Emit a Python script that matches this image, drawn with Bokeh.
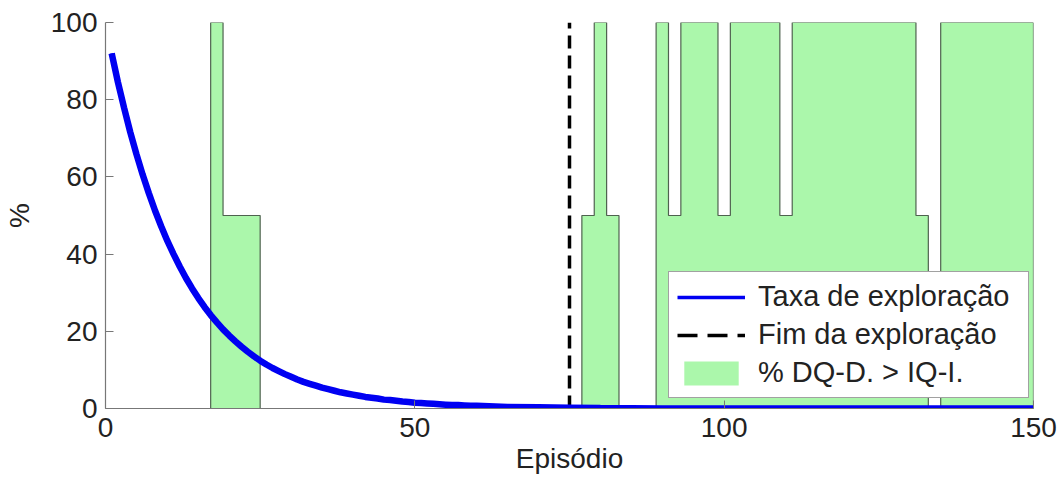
from bokeh.plotting import figure
from bokeh.models import Range1d, FixedTicker, Legend, LegendItem, ColumnDataSource
from bokeh.embed import file_html
from bokeh.resources import INLINE

# Exploration rate (%) per episode
episodes = [1, 2, 3, 4, 5, 6, 7, 8, 9, 10, 11, 12, 13, 14, 15, 16, 17, 18, 19, 20,
            21, 22, 23, 24, 25, 26, 27, 28, 29, 30, 31, 32, 33, 34, 35, 36, 37, 38, 39, 40,
            41, 42, 43, 44, 45, 46, 47, 48, 49, 50, 51, 52, 53, 54, 55, 56, 57, 58, 59, 60,
            65, 70, 75, 80, 90, 100, 120, 150]
taxa = [92.0, 84.6, 77.9, 71.6, 65.9, 60.6, 55.8, 51.3, 47.2, 43.4, 40.0, 36.8, 33.8, 31.1,
        28.6, 26.3, 24.2, 22.3, 20.5, 18.9, 17.4, 16.0, 14.7, 13.5, 12.4, 11.4, 10.5, 9.7,
        8.9, 8.2, 7.5, 6.9, 6.4, 5.9, 5.4, 5.0, 4.6, 4.2, 3.9, 3.6, 3.3, 3.0, 2.8, 2.6,
        2.3, 2.2, 2.0, 1.8, 1.7, 1.5, 1.4, 1.3, 1.2, 1.1, 1.0, 0.9, 0.9, 0.8, 0.7, 0.7,
        0.4, 0.3, 0.2, 0.1, 0.0, 0.0, 0.0, 0.0]

# End of exploration episode
fim_exploracao = 75

# % DQ-D. > IQ-I. (stairs: value holds from each edge to the next)
step_edges = [0, 17, 19, 25, 77, 79, 81, 83, 89, 91, 93, 99, 101, 109, 111, 131, 133, 135, 150]
step_values = [0, 100, 50, 0, 50, 100, 50, 0, 100, 50, 100, 50, 100, 50, 100, 50, 0, 100, 0]

x_ticks = [0, 50, 100, 150]
y_ticks = [0, 20, 40, 60, 80, 100]

FONT = "Liberation Sans"
TXT = "#222222"
GREEN = "#abf7ab"
BLUE = "#0000f2"

p = figure(width=1060, height=488, output_backend="svg", toolbar_location=None,
           x_range=Range1d(0, 150), y_range=Range1d(0, 100),
           min_border_left=105, min_border_right=27, min_border_top=22, min_border_bottom=80)
p.outline_line_color = None
p.xgrid.visible = False
p.ygrid.visible = False
p.background_fill_color = "white"
p.border_fill_color = "white"

src_step = ColumnDataSource(dict(x=step_edges, y=step_values, z=[0] * len(step_edges)))
r_area = p.varea_step(x="x", y1="z", y2="y", step_mode="after", source=src_step,
                      fill_color=GREEN)
p.step(x="x", y="y", mode="after", source=src_step, line_color="#4f624f", line_width=1.2)

dash_x = [fim_exploracao, fim_exploracao]
dash_y = [y_ticks[0], y_ticks[-1]]
# legend-style dashed renderer: zero-length (invisible in the plot), only styles the legend
r_leg_dash = p.line(x=dash_x, y=[y_ticks[0], y_ticks[0]], line_color="black",
                    line_width=3.5, line_dash="20 10")
r_dash = p.line(x=dash_x, y=dash_y, line_color="black", line_width=3.5, line_dash="13 7")
# legend-style (thinner) blue line, hidden under the thick one
r_leg_blue = p.line(x=episodes, y=taxa, line_color=BLUE, line_width=3.5)
r_blue = p.line(x=episodes, y=taxa, line_color=BLUE, line_width=6.5)

legend = Legend(items=[
    LegendItem(label="Taxa de exploração", renderers=[r_leg_blue]),
    LegendItem(label="Fim da exploração", renderers=[r_leg_dash]),
    LegendItem(label="% DQ-D. > IQ-I.", renderers=[r_area]),
], location=(563, 10))
legend.label_text_font = FONT
legend.label_text_font_size = "29px"
legend.label_text_color = TXT
legend.glyph_width = 68
legend.glyph_height = 30
legend.label_height = 30
legend.label_width = 262
legend.label_standoff = 13
legend.spacing = 5
legend.padding = 8
legend.margin = 0
legend.border_line_color = "#444444"
legend.border_line_width = 1
legend.background_fill_color = "white"
legend.background_fill_alpha = 1
p.add_layout(legend)

for ax in (p.xaxis[0], p.yaxis[0]):
    ax.axis_line_color = "#777777"
    ax.axis_line_width = 1.2
    ax.major_tick_line_color = "#777777"
    ax.major_tick_in = 8
    ax.major_tick_out = 0
    ax.minor_tick_line_color = None
    ax.major_label_text_font = FONT
    ax.major_label_text_font_size = "28px"
    ax.major_label_text_color = TXT
    ax.axis_label_text_font = FONT
    ax.axis_label_text_font_size = "28px"
    ax.axis_label_text_font_style = "normal"
    ax.axis_label_text_color = TXT

p.xaxis.ticker = FixedTicker(ticks=x_ticks)
p.yaxis.ticker = FixedTicker(ticks=y_ticks)
p.xaxis.axis_label = "Episódio"
p.yaxis.axis_label = "%"
p.xaxis.major_label_standoff = 9
p.xaxis.axis_label_standoff = 3
p.yaxis.major_label_standoff = 8
p.yaxis.axis_label_standoff = 13

open("out.html", "w").write(file_html(p, INLINE))
